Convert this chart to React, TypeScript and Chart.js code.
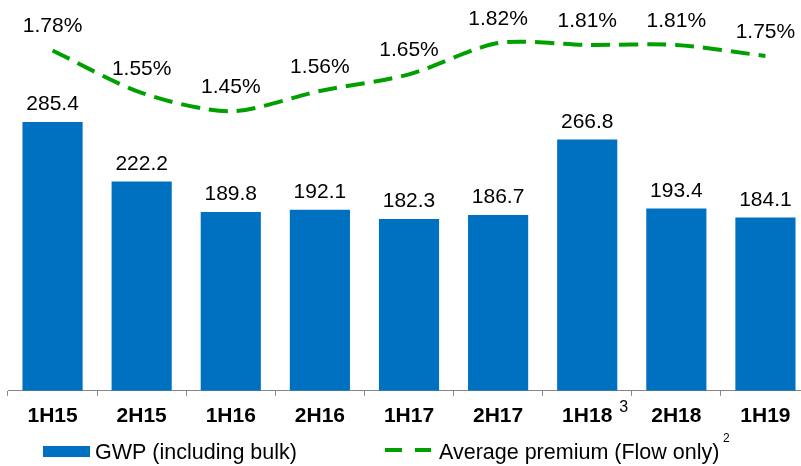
import React, { useEffect, useRef } from "react";
import { Chart, registerables } from "chart.js";

Chart.register(...registerables);

const categories = ["1H15", "2H15", "1H16", "2H16", "1H17", "2H17", "1H18", "2H18", "1H19"];
const gwp = [285.4, 222.2, 189.8, 192.1, 182.3, 186.7, 266.8, 193.4, 184.1];
const avgPremium = [1.78, 1.55, 1.45, 1.56, 1.65, 1.82, 1.81, 1.81, 1.75];
const gwpLabel = "GWP (including bulk)";
const premiumLabel = "Average premium (Flow only)";

const FONT = "'Liberation Sans', Arial, sans-serif";
const BLUE = "#0070C0";
const GREEN = "#00A000";

const labelPlugin = {
  id: "labels",
  afterDatasetsDraw(chart: any) {
    const ctx = chart.ctx;
    ctx.save();
    ctx.fillStyle = "#000";
    ctx.textAlign = "center";
    ctx.textBaseline = "middle";
    ctx.font = `21px ${FONT}`;
    const barMeta = chart.getDatasetMeta(0);
    barMeta.data.forEach((el: any, i: number) => {
      ctx.fillText(gwp[i].toFixed(1), el.x, el.y - 17.5);
    });
    const lineMeta = chart.getDatasetMeta(1);
    lineMeta.data.forEach((el: any, i: number) => {
      ctx.fillText(avgPremium[i].toFixed(2) + "%", el.x, el.y - 24);
    });
    ctx.restore();
  },
  afterDraw(chart: any) {
    const ctx = chart.ctx;
    ctx.save();
    const xs = chart.scales.x;
    ctx.fillStyle = "#000";
    ctx.textAlign = "left";
    ctx.textBaseline = "alphabetic";
    ctx.font = `16px ${FONT}`;
    ctx.fillText("3", xs.getPixelForValue(6) + 32, 412);
    // legend
    ctx.fillStyle = BLUE;
    ctx.fillRect(43, 446, 47, 11);
    ctx.fillStyle = "#000";
    ctx.font = `21.5px ${FONT}`;
    ctx.fillText(gwpLabel, 95, 459);
    ctx.strokeStyle = GREEN;
    ctx.lineWidth = 4;
    ctx.beginPath();
    ctx.moveTo(385, 450);
    ctx.lineTo(402, 450);
    ctx.moveTo(415, 450);
    ctx.lineTo(431, 450);
    ctx.stroke();
    ctx.fillText(premiumLabel, 439, 459);
    ctx.font = `12px ${FONT}`;
    ctx.fillText("2", 723, 442);
    ctx.restore();
  },
};

export default function App() {
  const ref = useRef<HTMLCanvasElement>(null);
  useEffect(() => {
    if (!ref.current) return;
    const chart = new Chart(ref.current, {
      type: "bar",
      data: {
        labels: categories,
        datasets: [
          {
            type: "bar",
            label: gwpLabel,
            data: gwp,
            backgroundColor: BLUE,
            categoryPercentage: 1,
            barPercentage: 0.675,
            yAxisID: "y",
            order: 2,
          },
          {
            type: "line",
            label: premiumLabel,
            data: avgPremium,
            borderColor: GREEN,
            borderWidth: 4,
            borderDash: [19, 9],
            pointRadius: 0,
            tension: 0.28,
            fill: false,
            yAxisID: "y2",
            order: 1,
          } as any,
        ],
      },
      options: {
        animation: false,
        responsive: true,
        maintainAspectRatio: false,
        layout: { padding: { left: 8, top: 14, right: 0, bottom: 29 } },
        plugins: { legend: { display: false }, tooltip: { enabled: false } },
        scales: {
          x: {
            grid: {
              display: true,
              drawOnChartArea: false,
              drawTicks: true,
              tickLength: 5,
              color: "#868686",
              offset: true,
            },
            border: { display: true, color: "#868686", width: 1 },
            ticks: {
              color: "#000",
              padding: 8,
              font: { family: FONT, size: 21, weight: "bold" },
              maxRotation: 0,
            },
          },
          y: { display: false, min: 0, max: 400 },
          y2: { display: false, min: -0.068, max: 1.978, position: "right" },
        },
      },
      plugins: [labelPlugin],
    });
    return () => chart.destroy();
  }, []);
  return (
    <div style={{ position: "fixed", left: 0, top: 0, width: 801, height: 466, overflow: "hidden", background: "#fff" }}>
      <div style={{ position: "relative", width: 810, height: 466 }}>
        <canvas ref={ref} />
      </div>
    </div>
  );
}
